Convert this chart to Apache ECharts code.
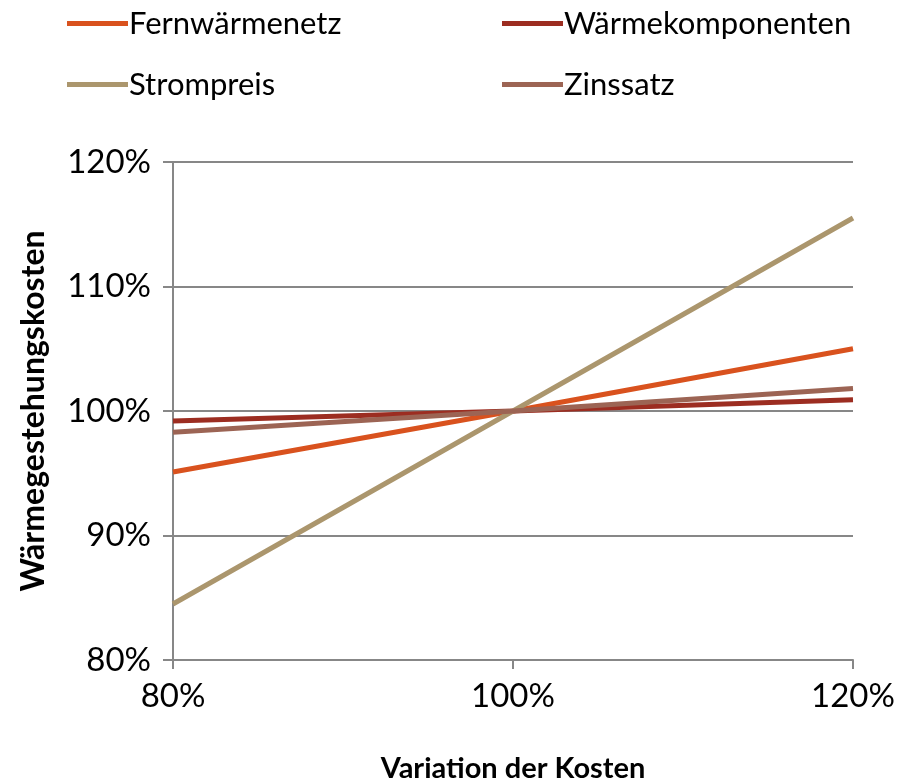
<!DOCTYPE html>
<html>
<head>
<meta charset="utf-8">
<script src="https://cdn.jsdelivr.net/npm/echarts@6/dist/echarts.min.js"></script>
<style>
  html, body { margin: 0; padding: 0; background: #fff; }
  #chart { width: 915px; height: 782px; }
</style>
</head>
<body>
<div id="chart"></div>
<script>
// variation of the cost (x) in percent
const variation = [80, 100, 120]

const fernwaermenetz = [95.1, 100, 105.0]
const waermekomponenten = [99.2, 100, 100.9]
const strompreis = [84.5, 100, 115.5]
const zinssatz = [98.3, 100, 101.8]

const seriesNames = ['Fernwärmenetz', 'Wärmekomponenten', 'Strompreis', 'Zinssatz']
const seriesColors = ['#d9521e', '#9c2d21', '#ab966d', '#9c6454']

const font = 'Lato, "Noto Sans", sans-serif'
const axisGray = '#878787'

const chart = echarts.init(document.getElementById('chart'))

const toPoints = (values) => variation.map((x, i) => [x, values[i]])

const legendBase = {
  orient: 'vertical',
  top: 3,
  itemGap: 30,
  itemWidth: 61,
  itemHeight: 5,
  icon: 'rect',
  textStyle: { fontFamily: font, fontSize: 31, color: '#000', padding: [0, 0, 0, -4] }
}

chart.setOption({
  animation: false,
  color: seriesColors,
  textStyle: { fontFamily: font },
  legend: [
    { ...legendBase, left: 62, data: ['Fernwärmenetz', 'Strompreis'] },
    { ...legendBase, left: 497, data: ['Wärmekomponenten', 'Zinssatz'] }
  ],
  grid: { left: 173, right: 62, top: 162, bottom: 122, outerBoundsMode: 'none' },
  xAxis: {
    type: 'value',
    min: 80,
    max: 120,
    interval: 20,
    name: 'Variation der Kosten',
    nameLocation: 'middle',
    nameGap: 94,
    nameTextStyle: { fontSize: 29, fontWeight: 'bold', color: '#000' },
    axisLine: { lineStyle: { color: axisGray, width: 2 } },
    axisTick: { show: true, length: 9, lineStyle: { color: axisGray, width: 2 } },
    axisLabel: { fontSize: 33, color: '#000', margin: 20, formatter: '{value}%' },
    splitLine: { show: false }
  },
  yAxis: {
    type: 'value',
    min: 80,
    max: 120,
    interval: 10,
    name: 'Wärmegestehungskosten',
    nameLocation: 'middle',
    nameGap: 123,
    nameTextStyle: { fontSize: 32, fontWeight: 'bold', color: '#000' },
    axisLine: { show: true, lineStyle: { color: axisGray, width: 2 } },
    axisTick: { show: true, length: 10, lineStyle: { color: axisGray, width: 2 } },
    axisLabel: { fontSize: 33, color: '#000', margin: 22, formatter: '{value}%' },
    splitLine: { lineStyle: { color: axisGray, width: 2 } }
  },
  series: [
    { name: seriesNames[0], type: 'line', data: toPoints(fernwaermenetz), showSymbol: false, lineStyle: { width: 5 } },
    { name: seriesNames[1], type: 'line', data: toPoints(waermekomponenten), showSymbol: false, lineStyle: { width: 5 } },
    { name: seriesNames[2], type: 'line', data: toPoints(strompreis), showSymbol: false, lineStyle: { width: 5 } },
    { name: seriesNames[3], type: 'line', data: toPoints(zinssatz), showSymbol: false, lineStyle: { width: 5 } }
  ]
})
</script>
</body>
</html>
